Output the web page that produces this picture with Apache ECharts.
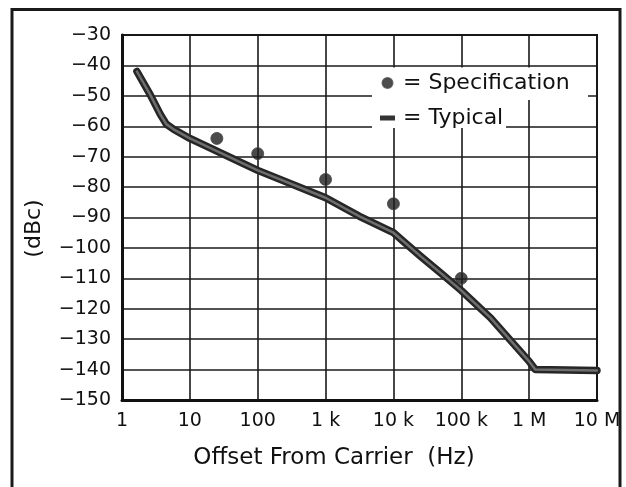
<!DOCTYPE html>
<html>
<head>
<meta charset="utf-8">
<script src="https://cdn.jsdelivr.net/npm/echarts@6/dist/echarts.min.js"></script>
<style>
html,body{margin:0;padding:0;background:#fff;}
#chart{width:626px;height:487px;}
</style>
</head>
<body>
<div id="chart"></div>
<script>
// Typical curve (offset frequency in Hz, level in dBc)
const typicalFreq = [1.66, 2.6, 3.67, 4.5, 5.76, 10, 100, 1000, 3160, 10000, 15000, 25000, 50000, 100000, 270000, 1000000, 1230000, 10000000];
const typicalDbc  = [-42, -49.6, -56.1, -59.3, -61, -64, -74.5, -83.5, -89.6, -95, -98.4, -102.7, -108.3, -114, -123, -137.3, -140, -140.3];
// Specification points
const specFreq = [25, 100, 1000, 10000, 100000];
const specDbc  = [-64, -69, -77.5, -85.5, -110];
// Tick labels
const xTickLabels = ['1', '10', '100', '1 k', '10 k', '100 k', '1 M', '10 M'];
const yMin = -150, yMax = -30, yStep = 10;

const FONT = 'DejaVu Sans';
const typicalData = typicalFreq.map((f, i) => [f, typicalDbc[i]]);
const specData = specFreq.map((f, i) => [f, specDbc[i]]);

const chart = echarts.init(document.getElementById('chart'), null, {renderer: 'canvas'});
chart.setOption({
  animation: false,
  backgroundColor: '#fff',
  textStyle: {fontFamily: FONT, color: '#111'},
  grid: {left: 122, right: 29, top: 35, bottom: 87, show: true, borderColor: '#111', borderWidth: 2, backgroundColor: 'transparent'},
  xAxis: {
    type: 'log', logBase: 10, min: 1, max: 1e7,
    name: 'Offset From Carrier  (Hz)', nameLocation: 'middle', nameGap: 47,
    nameTextStyle: {fontFamily: FONT, fontSize: 23, color: '#111', padding: [0, 51, 0, 0]},
    axisLine: {show: true, lineStyle: {color: '#111', width: 3}},
    axisTick: {show: false},
    minorTick: {show: false},
    axisLabel: {
      fontFamily: FONT, fontSize: 19, color: '#111', margin: 12,
      formatter: v => xTickLabels[Math.round(Math.log10(v))]
    },
    splitLine: {show: true, lineStyle: {color: '#1a1a1a', width: 1.6}}
  },
  yAxis: {
    type: 'value', min: yMin, max: yMax, interval: yStep,
    name: '(dBc)', nameLocation: 'middle', nameGap: 77,
    nameTextStyle: {fontFamily: FONT, fontSize: 22, color: '#111', padding: [0, 22, 0, 0]},
    axisLine: {show: true, onZero: false, lineStyle: {color: '#111', width: 3}},
    axisTick: {show: false},
    axisLabel: {
      fontFamily: FONT, fontSize: 19, color: '#111', margin: 11,
      formatter: v => String(v).replace('-', '\u2212')
    },
    splitLine: {show: true, lineStyle: {color: '#1a1a1a', width: 1.6}}
  },
  legend: {
    orient: 'vertical', left: 375, top: 67, itemGap: 13,
    itemWidth: 15, itemHeight: 10, selectedMode: false,
    textStyle: {fontFamily: FONT, fontSize: 22, color: '#111', padding: [0, 0, 0, 3]},
    formatter: n => '= ' + n,
    data: [
      {name: 'Specification', icon: 'circle', itemStyle: {color: '#222'}},
      {name: 'Typical', icon: 'path://M0,0L0,0M0,2.5L15,2.5L15,7.5L0,7.5ZM15,10L15,10', itemStyle: {color: '#333'}}
    ]
  },
  graphic: [
    {type: 'rect', z: 3, shape: {x: 372, y: 67.5, width: 216, height: 32.5}, style: {fill: '#fff'}},
    {type: 'rect', z: 3, shape: {x: 372, y: 99, width: 134, height: 29}, style: {fill: '#fff'}},
    {type: 'rect', z: 10, shape: {x: 12, y: 9.5, width: 608, height: 500}, style: {fill: 'none', stroke: '#1a1a1a', lineWidth: 3}}
  ],
  series: [
    {
      name: 'Typical', type: 'line', data: typicalData, symbol: 'none', z: 2,
      lineStyle: {color: '#262626', width: 7.5, cap: 'round', join: 'round'},
      itemStyle: {color: '#333'}
    },
    {
      name: 'TypicalCore', type: 'line', data: typicalData, symbol: 'none', z: 3,
      lineStyle: {color: '#6e6e6e', width: 2.5, cap: 'round', join: 'round'},
      silent: true, tooltip: {show: false}
    },
    {
      name: 'Specification', type: 'scatter', data: specData, symbol: 'circle', symbolSize: 12, z: 4,
      itemStyle: {color: '#1e1e1e', borderColor: '#444', borderWidth: 1}
    }
  ]
});
</script>
</body>
</html>
